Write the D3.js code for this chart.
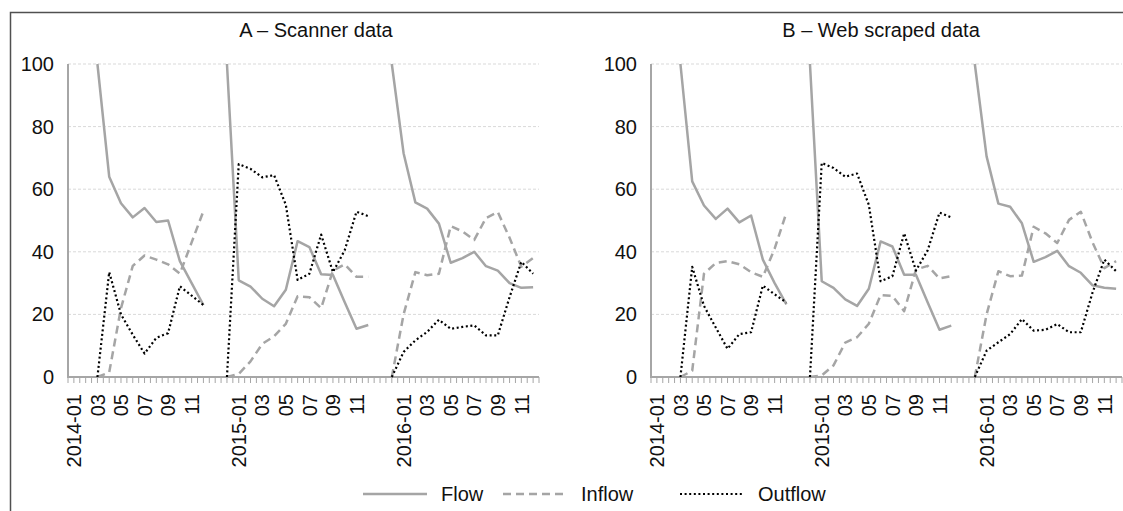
<!DOCTYPE html>
<html>
<head>
<meta charset="utf-8">
<script src="https://cdn.jsdelivr.net/npm/d3@7"></script>
<style>
  body { margin: 0; background: #fff; }
  svg { display: block; font-family: "Liberation Sans", Arial, Helvetica, sans-serif; }
  .grid line { stroke: #d9d9d9; stroke-dasharray: 3,2; }
  .axis-line { stroke: #a6a6a6; stroke-width: 2; }
  .tick-mark { stroke: #a6a6a6; stroke-width: 1; }
  .lbl { font-size: 20px; fill: #111; }
</style>
</head>
<body>
<div id="chart"></div>
<script>
const W = 1123, H = 511;

// categories: 12 months per year, two spare slots before 2015 and 2016
const categories = [
  '2014-01','2014-02','2014-03','2014-04','2014-05','2014-06','2014-07','2014-08','2014-09','2014-10','2014-11','2014-12',
  'gap-2015','base-2015',
  '2015-01','2015-02','2015-03','2015-04','2015-05','2015-06','2015-07','2015-08','2015-09','2015-10','2015-11','2015-12',
  'gap-2016','base-2016',
  '2016-01','2016-02','2016-03','2016-04','2016-05','2016-06','2016-07','2016-08','2016-09','2016-10','2016-11','2016-12'
];

// tick labels: [category, text]
const tickLabels = [
  ['2014-01','2014-01'],['2014-03','03'],['2014-05','05'],['2014-07','07'],['2014-09','09'],['2014-11','11'],
  ['2015-01','2015-01'],['2015-03','03'],['2015-05','05'],['2015-07','07'],['2015-09','09'],['2015-11','11'],
  ['2016-01','2016-01'],['2016-03','03'],['2016-05','05'],['2016-07','07'],['2016-09','09'],['2016-11','11']
];

// the three yearly segments every series is split into
const segCats = [
  categories.slice(2, 12),   // 2014-03 .. 2014-12
  categories.slice(13, 26),  // base-2015 .. 2015-12
  categories.slice(27, 40)   // base-2016 .. 2016-12
];

const yTicks = [0, 20, 40, 60, 80, 100];
const seriesNames = ['Flow', 'Inflow', 'Outflow'];

// A - Scanner data
const scannerFlow = [
  [100, 64, 55.5, 51, 54, 49.5, 50, 37, 30, 23],
  [100, 30.9, 28.9, 25, 22.6, 27.9, 43.4, 41.5, 32.8, 32.6, 23.9, 15.4, 16.6],
  [100, 71.5, 55.8, 53.8, 49, 36.5, 38, 40, 35.4, 34, 30, 28.5, 28.7]
];
const scannerInflow = [
  [0, 1.5, 22, 35.5, 38.8, 37.5, 36, 33, 43, 53],
  [0, 1, 5, 10.6, 13, 17, 25.8, 25.5, 22, 34, 36, 32, 32],
  [0, 20, 33.5, 32.5, 33, 48.2, 46.5, 43.8, 50.8, 52.7, 44.5, 35.2, 38]
];
const scannerOutflow = [
  [0, 33.5, 20, 13.5, 7.5, 12.5, 14, 29, 26, 23],
  [0, 68, 66.5, 63.8, 64.5, 55, 31, 33, 45.5, 33.5, 40.5, 52.8, 51.4],
  [0, 8, 11.7, 14.4, 18.3, 15.4, 16, 16.5, 13.3, 13.3, 25.5, 36.8, 33]
];

// B - Web scraped data
const webFlow = [
  [100, 62.5, 54.8, 50.5, 53.8, 49.4, 51.6, 37.5, 30, 23.2],
  [100, 30.6, 28.5, 24.8, 22.7, 28.2, 43.3, 41.7, 32.7, 32.7, 23.8, 15.1, 16.4],
  [100, 70.5, 55.4, 54.4, 49.1, 36.8, 38.3, 40.3, 35.4, 33.3, 29.3, 28.5, 28.2]
];
const webInflow = [
  [0, 2, 33, 36.4, 37, 36, 33.5, 32, 41, 52.5],
  [0, 0.5, 3.7, 11, 12.7, 17, 26.2, 25.9, 21, 34.3, 35.5, 31.5, 32.2],
  [0, 20, 33.8, 32.2, 32.4, 48, 45.9, 42.8, 50.2, 52.8, 43, 34.8, 37]
];
const webOutflow = [
  [0, 35.2, 22.7, 15.8, 9, 13.7, 14.3, 29.2, 26.4, 23.8],
  [0, 68.4, 66.8, 64, 65, 55, 30.6, 32.2, 45.9, 34, 40.5, 52.5, 51],
  [0, 8.4, 11.1, 13.7, 18.5, 14.8, 15.1, 16.9, 14.3, 14.3, 27, 37.5, 33.8]
];

const panels = [
  { title: 'A \u2013 Scanner data', left: 68, titleX: 316, series: [scannerFlow, scannerInflow, scannerOutflow] },
  { title: 'B \u2013 Web scraped data', left: 651, titleX: 881, series: [webFlow, webInflow, webOutflow] }
];

const styles = {
  Flow:    { stroke: '#a5a5a5', width: 2.5, dash: null },
  Inflow:  { stroke: '#a5a5a5', width: 2.5, dash: '8,5' },
  Outflow: { stroke: '#000000', width: 2.2, dash: '2,2.6' }
};

const plotW = 471, plotTop = 64, plotBottom = 377;

const svg = d3.select('#chart').append('svg')
  .attr('width', W).attr('height', H);

// outer frame (cropped at right and bottom)
svg.append('rect')
  .attr('x', 10.5).attr('y', 12.5)
  .attr('width', 1300).attr('height', 700)
  .attr('fill', 'none').attr('stroke', '#505050').attr('stroke-width', 1.5);

const y = d3.scaleLinear().domain([0, 100]).range([plotBottom, plotTop]);

panels.forEach(panel => {
  const x = d3.scalePoint().domain(categories)
    .range([panel.left, panel.left + plotW]).padding(0.5);
  const step = x.step();
  const g = svg.append('g');

  // gridlines
  g.append('g').attr('class', 'grid')
    .selectAll('line').data(yTicks.filter(t => t > 0)).join('line')
    .attr('x1', panel.left).attr('x2', panel.left + plotW)
    .attr('y1', d => y(d)).attr('y2', d => y(d));

  // y labels
  g.selectAll('.ylab').data(yTicks).join('text')
    .attr('class', 'lbl ylab')
    .attr('x', panel.left - 14).attr('y', d => y(d))
    .attr('dy', '0.35em').attr('text-anchor', 'end')
    .text(d => d);

  // x tick marks at every half category
  const tickPos = [];
  categories.forEach(c => { tickPos.push(x(c) - step / 2); tickPos.push(x(c)); });
  tickPos.push(x(categories[categories.length - 1]) + step / 2);
  g.selectAll('.tick-mark').data(tickPos).join('line')
    .attr('class', 'tick-mark')
    .attr('x1', d => d).attr('x2', d => d)
    .attr('y1', plotBottom).attr('y2', plotBottom + 6);

  // axes
  g.append('line').attr('class', 'axis-line')
    .attr('x1', panel.left).attr('x2', panel.left)
    .attr('y1', plotTop).attr('y2', plotBottom);
  g.append('line').attr('class', 'axis-line')
    .attr('x1', panel.left - 1).attr('x2', panel.left + plotW)
    .attr('y1', plotBottom).attr('y2', plotBottom);

  // x labels rotated
  g.selectAll('.xlab').data(tickLabels).join('text')
    .attr('class', 'lbl xlab')
    .attr('transform', d => `translate(${x(d[0])},${plotBottom + 17}) rotate(-90)`)
    .attr('text-anchor', 'end').attr('dy', '0.36em')
    .text(d => d[1]);

  // title
  g.append('text').attr('class', 'lbl')
    .attr('x', panel.titleX).attr('y', 37)
    .attr('text-anchor', 'middle')
    .text(panel.title);

  // series lines
  const line = d3.line().x(d => x(d.cat)).y(d => y(d.v));
  seriesNames.forEach((name, si) => {
    const st = styles[name];
    panel.series[si].forEach((vals, k) => {
      const pts = vals.map((v, i) => ({ cat: segCats[k][i], v }));
      g.append('path').datum(pts)
        .attr('d', line)
        .attr('fill', 'none')
        .attr('stroke', st.stroke)
        .attr('stroke-width', st.width)
        .attr('stroke-dasharray', st.dash)
        .attr('stroke-linejoin', 'round');
    });
  });
});

// legend
const legendX = [363, 503, 680];
const legendY = 494;
const lg = svg.append('g');
seriesNames.forEach((name, i) => {
  const st = styles[name];
  lg.append('line')
    .attr('x1', legendX[i]).attr('x2', legendX[i] + 64)
    .attr('y1', legendY).attr('y2', legendY)
    .attr('stroke', st.stroke).attr('stroke-width', st.width)
    .attr('stroke-dasharray', st.dash);
  lg.append('text').attr('class', 'lbl')
    .attr('x', legendX[i] + 78).attr('y', legendY).attr('dy', '0.35em')
    .text(name);
});
</script>
</body>
</html>
